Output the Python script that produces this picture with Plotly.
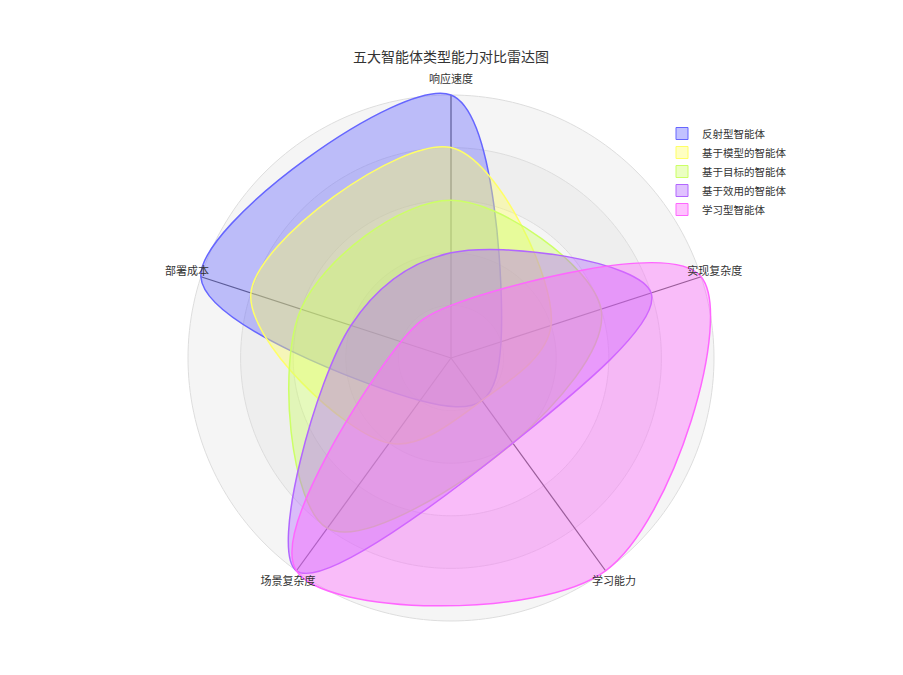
import numpy as np
import plotly.graph_objects as go

title = "五大智能体类型能力对比雷达图"
dimensions = ["响应速度", "实现复杂度", "学习能力", "场景复杂度", "部署成本"]
agent_names = ["反射型智能体", "基于模型的智能体", "基于目标的智能体", "基于效用的智能体", "学习型智能体"]

# scores 1-5, same order as dimensions
reflex = [5, 1, 1, 1, 5]
model_based = [4, 2, 1, 2, 4]
goal_based = [3, 3, 2, 4, 3]
utility_based = [2, 4, 2, 5, 2]
learning = [1, 5, 5, 5, 1]

max_score = 5
levels = [5, 4, 3, 2, 1]

colors = ["#6666ff", "#ffff66", "#ccff66", "#b266ff", "#ff66ff"]
ring_colors = ["#f5f5f5", "#eeeeee", "#f5f5f5", "#eeeeee", "#f5f5f5"]

# page body adds an 8px margin, so the layout is shifted back by that much
OFF = 8
W, H = 903, 675
LABEL_R = 1.055   # axis names sit just outside the outer ring
R_MAX = 5.35      # radial range, leaves room for the axis names


def rgba(hex_color, alpha):
    h = hex_color.lstrip("#")
    r, g, b = int(h[0:2], 16), int(h[2:4], 16), int(h[4:6], 16)
    return f"rgba({r},{g},{b},{alpha})"


angles = [i * 360 / len(dimensions) for i in range(len(dimensions))]

fig = go.Figure()

# background rings (split areas)
circle_theta = np.linspace(0, 360, 241)
for level, ring_color in zip(levels, ring_colors):
    fig.add_trace(go.Scatterpolar(
        r=[level] * len(circle_theta),
        theta=circle_theta,
        mode="lines",
        fill="toself",
        fillcolor=ring_color,
        line=dict(color="#dddddd", width=1),
        hoverinfo="skip",
        showlegend=False,
    ))

# spokes
for a in angles:
    fig.add_trace(go.Scatterpolar(
        r=[0, max_score],
        theta=[a, a],
        mode="lines",
        line=dict(color="#555555", width=1.2),
        hoverinfo="skip",
        showlegend=False,
    ))

series = [reflex, model_based, goal_based, utility_based, learning]
for name, values, color in zip(agent_names, series, colors):
    fig.add_trace(go.Scatterpolar(
        r=values + values[:1],
        theta=angles + angles[:1],
        mode="lines",
        name=name,
        legendgroup=name,
        showlegend=False,
        fill="toself",
        fillcolor=rgba(color, 0.4),
        line=dict(color=color, width=1.5, shape="spline", smoothing=1),
        customdata=dimensions + dimensions[:1],
        hovertemplate="%{customdata}: %{r}<extra>" + name + "</extra>",
    ))

# square legend swatches
for name, color in zip(agent_names, colors):
    fig.add_trace(go.Scatterpolar(
        r=[None],
        theta=[None],
        mode="markers",
        name=name,
        legendgroup=name,
        marker=dict(symbol="square", size=12, color=rgba(color, 0.4),
                    line=dict(color=color, width=1)),
        hoverinfo="skip",
    ))

# axis names
fig.add_trace(go.Scatterpolar(
    r=[max_score * LABEL_R] * len(dimensions),
    theta=angles,
    mode="text",
    text=dimensions,
    textposition="middle center",
    textfont=dict(size=11, color="#333333"),
    cliponaxis=False,
    hoverinfo="skip",
    showlegend=False,
))

cx, cy = 451 - OFF, 358 - OFF
rad = 263 * R_MAX / max_score
fig.update_layout(
    title=dict(
        text=title,
        x=(451 - OFF) / W,
        xanchor="center",
        y=1 - (57 - OFF) / H,
        yanchor="middle",
        yref="container",
        font=dict(size=14, color="#333333"),
    ),
    font=dict(family="Noto Sans CJK SC, sans-serif", color="#333333"),
    polar=dict(
        domain=dict(x=[(cx - rad) / W, (cx + rad) / W],
                    y=[1 - (cy + rad) / H, 1 - (cy - rad) / H]),
        bgcolor="rgba(0,0,0,0)",
        radialaxis=dict(visible=False, range=[0, R_MAX]),
        angularaxis=dict(
            type="linear",
            thetaunit="degrees",
            direction="clockwise",
            rotation=90,
            showgrid=False,
            showline=False,
            showticklabels=False,
            ticks="",
        ),
    ),
    legend=dict(
        x=(662 - OFF) / W,
        y=1 - (119 - OFF) / H,
        xanchor="left",
        yanchor="top",
        font=dict(size=10.5, color="#333333"),
        bgcolor="rgba(0,0,0,0)",
        tracegroupgap=0,
    ),
    paper_bgcolor="white",
    plot_bgcolor="white",
    margin=dict(l=0, r=0, t=0, b=0),
    width=W,
    height=H,
)

fig.write_html("out.html")
